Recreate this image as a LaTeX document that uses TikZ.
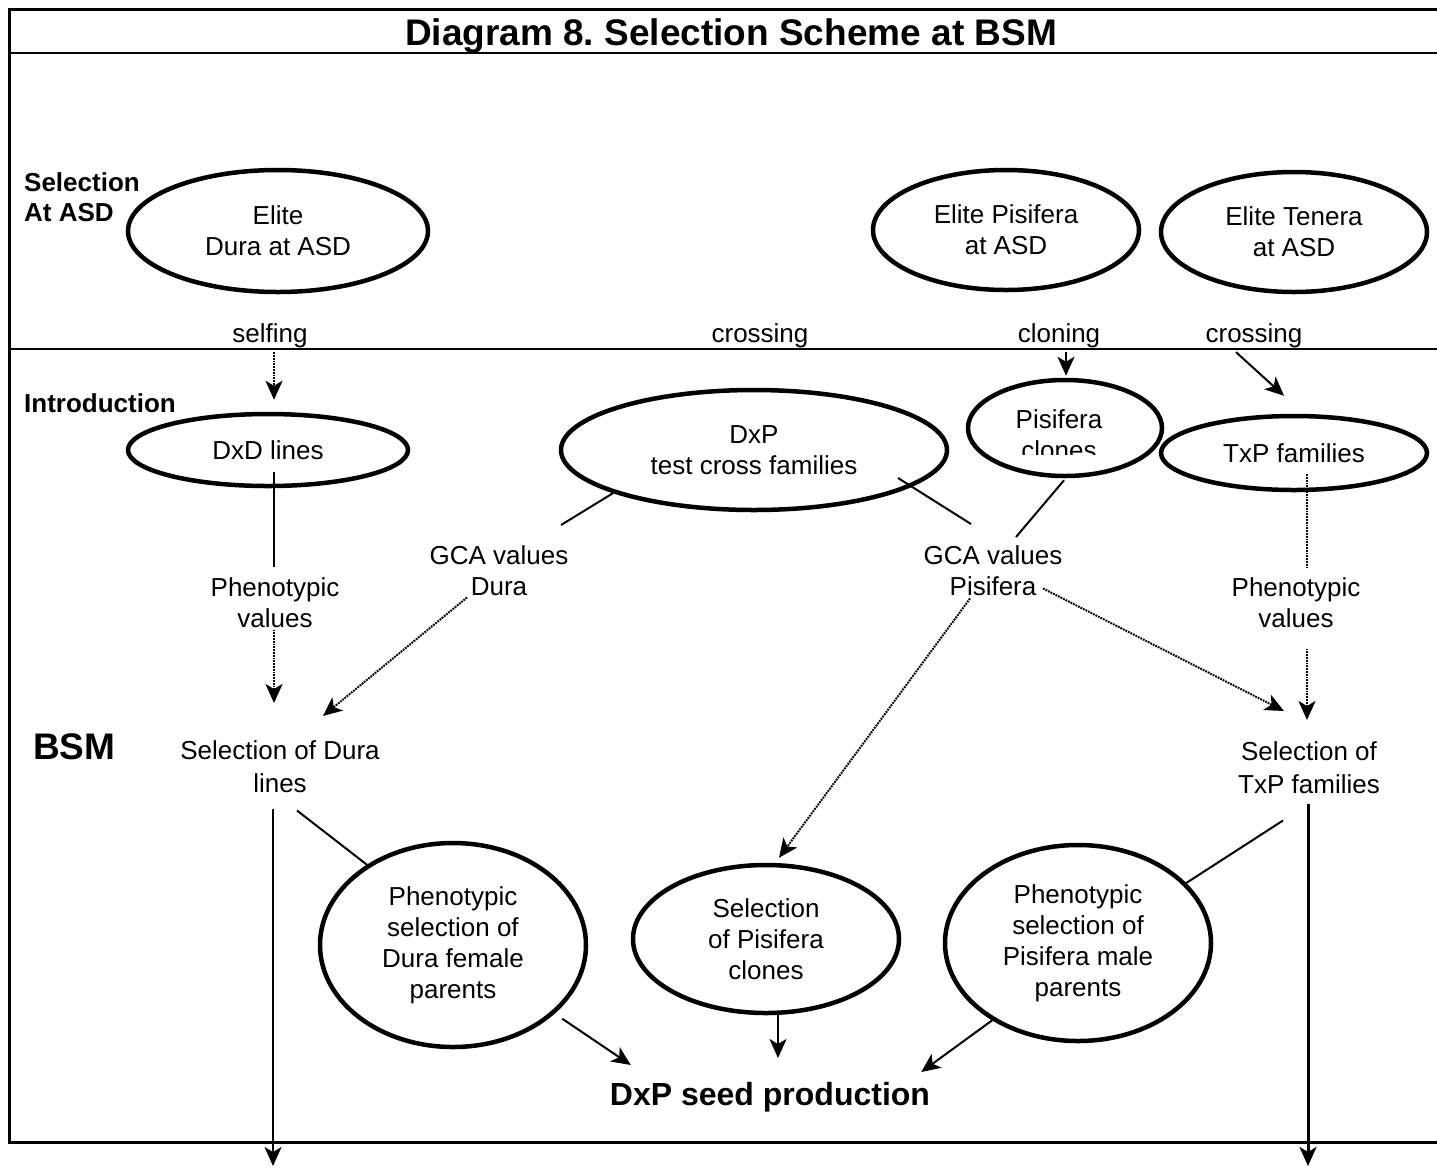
\documentclass[tikz,border=0pt]{standalone}
\usepackage{fontspec}
\setmainfont{Liberation Sans}
\usetikzlibrary{shapes.geometric,arrows.meta}

\newcommand{\txtfont}{\fontsize{26}{31}\selectfont}
\newcommand{\headfont}{\bfseries\fontsize{26}{30}\selectfont}
\tikzset{
  oval/.style={ellipse, draw, line width=4.5pt, inner sep=0pt, align=center, font=\txtfont},
  lbl/.style={inner sep=0pt, align=center, font=\txtfont, anchor=north},
  head/.style={inner sep=0pt, align=left, font=\headfont, anchor=north west},
  link/.style={line width=2pt},
  arr/.style={line width=2pt, -{Stealth[length=19pt,width=17pt,inset=5pt]}},
  dots/.style={line width=2pt, dash pattern=on 1.8pt off 1pt},
}

\begin{document}
\frenchspacing
\begin{tikzpicture}[x=1pt,y=-1pt]
  \useasboundingbox (0,0) rectangle (1437,1168);
  % frame
  \draw[line width=3pt] (1450,9.5) -- (9,9.5) -- (9,1142) -- (1450,1142);
  \draw[line width=2.5pt] (9,53) -- (1450,53);
  \draw[line width=2pt] (9,349) -- (1450,349);
  \node[inner sep=0pt, anchor=north, font=\bfseries\fontsize{37}{40}\selectfont] (title) at (731,18) {Diagram 8. Selection Scheme at BSM};

  % row labels
  \node[head] (rowasd) at (24,172) {Selection\\At ASD};
  \node[head] (rowintro) at (24,393) {Introduction};
  \node[head, font=\bfseries\fontsize{37}{40}\selectfont] (rowbsm) at (33,733) {BSM};

  % selection at ASD
  \node[oval, minimum width=300, minimum height=122] (elitedura) at (278,231) {Elite\\Dura at ASD};
  \node[oval, minimum width=266, minimum height=120] (elitepis) at (1006,230) {Elite Pisifera\\at ASD};
  \node[oval, minimum width=266, minimum height=120] (eliteten) at (1294,232) {Elite Tenera\\at ASD};
  \node[lbl] (selfing) at (270,323) {selfing};
  \node[lbl] (crossdxp) at (760,323) {crossing};
  \node[lbl] (cloning) at (1059,323) {cloning};
  \node[lbl] (crosstxp) at (1254,323) {crossing};

  % introduction
  \node[oval, minimum width=280, minimum height=72] (dxd) at (268,450) {DxD lines};
  \node[oval, minimum width=386, minimum height=120] (dxp) at (754,450) {DxP\\test cross families};
  \node[oval, minimum width=194, minimum height=96] (pisclone) at (1065,428) {};
  \begin{scope}
    \clip (975,395) rectangle (1155,454);
    \node[lbl] (pisclonetxt) at (1059,409) {Pisifera\\clones};
  \end{scope}
  \node[oval, minimum width=266, minimum height=74] (txp) at (1294,453) {TxP families};

  \node[lbl] (phendd) at (275,577) {Phenotypic\\values};
  \node[lbl] (gcadura) at (499,545) {GCA values\\Dura};
  \node[lbl] (gcapis) at (993,545) {GCA values\\Pisifera};
  \node[lbl] (phentxp) at (1296,577) {Phenotypic\\values};

  % BSM
  \node[lbl] (seldura) at (280,740) {Selection of Dura\\[2pt]lines};
  \node[lbl] (seltxp) at (1309,741) {Selection of\\[2pt]TxP families};
  \node[oval, minimum width=266, minimum height=204] (phendura) at (453,945) {Phenotypic\\selection of\\Dura female\\parents};
  \node[oval, minimum width=266, minimum height=148] (selpis) at (766,939) {Selection\\of Pisifera\\clones};
  \node[oval, minimum width=266, minimum height=196] (phenpis) at (1078,943) {Phenotypic\\selection of\\Pisifera male\\parents};
  \node[inner sep=0pt, anchor=north, font=\bfseries\fontsize{32}{36}\selectfont] (seed) at (770,1082) {DxP seed production};
  \coordinate (duraout) at (273,1166);
  \coordinate (txpout) at (1308,1166);

  % connectors
  \draw[arr, dots] ([xshift=4pt,yshift=-4.5pt]selfing.south) -- ([xshift=6pt,yshift=12pt]dxd.north);
  \draw[arr] ([xshift=7pt,yshift=-4.5pt]cloning.south) -- ([xshift=1pt,yshift=2pt]pisclone.north);
  \draw[arr] ([xshift=-18pt,yshift=-4.5pt]crosstxp.south) -- ([xshift=-10pt,yshift=18pt]txp.north);

  \draw[link] ([xshift=6pt,yshift=16pt]dxd.south) -- ([xshift=-1pt,yshift=10pt]phendd.north);
  \draw[arr, dots] ([xshift=-1pt,yshift=-2pt]phendd.south) -- ([xshift=-6pt,yshift=37pt]seldura.north);
  \draw[link] (dxp.197) -- ([xshift=-7.5pt,yshift=20pt]gcadura.north east);
  \draw[link] ([xshift=144pt,yshift=-28pt]dxp.center) -- ([xshift=-22pt,yshift=21pt]gcapis.north);
  \draw[link] ([xshift=-1pt,yshift=-2pt]pisclone.south) -- ([xshift=23pt,yshift=8pt]gcapis.north);
  \draw[dots] ([xshift=13pt,yshift=18pt]txp.south) -- ([xshift=11pt,yshift=10pt]phentxp.north);
  \draw[arr, dots] ([xshift=11pt,yshift=-21pt]phentxp.south) -- ([xshift=-2pt,yshift=21pt]seltxp.north);

  \draw[arr, dots] ([xshift=-32pt,yshift=-2pt]gcadura.south) -- ([xshift=43pt,yshift=24pt]seldura.north);
  \draw[arr, dots] ([xshift=-23pt,yshift=-3pt]gcapis.south) -- ([xshift=13pt,yshift=5pt]selpis.north);
  \draw[arr, dots] ([xshift=-19.5pt,yshift=7pt]gcapis.south east) -- ([xshift=-25pt,yshift=30pt]seltxp.north);

  \draw[link] ([xshift=17pt,yshift=-18pt]seldura.south) -- (phendura.137);
  \draw[arr] ([xshift=-7pt,yshift=-16pt]seldura.south) -- (duraout);
  \draw[link] ([xshift=-26pt,yshift=-27pt]seltxp.south) -- (phenpis.29);
  \draw[arr, line width=3pt] ([xshift=-1pt,yshift=-10pt]seltxp.south) -- (txpout);

  \draw[arr, shorten <=9pt] (phendura.326) -- ([xshift=21pt,yshift=17pt]seed.north west);
  \draw[arr] ([xshift=12pt]selpis.south) -- ([xshift=8pt,yshift=24pt]seed.north);
  \draw[arr] (phenpis.222) -- ([xshift=-9pt,yshift=10pt]seed.north east);
\end{tikzpicture}
\end{document}
